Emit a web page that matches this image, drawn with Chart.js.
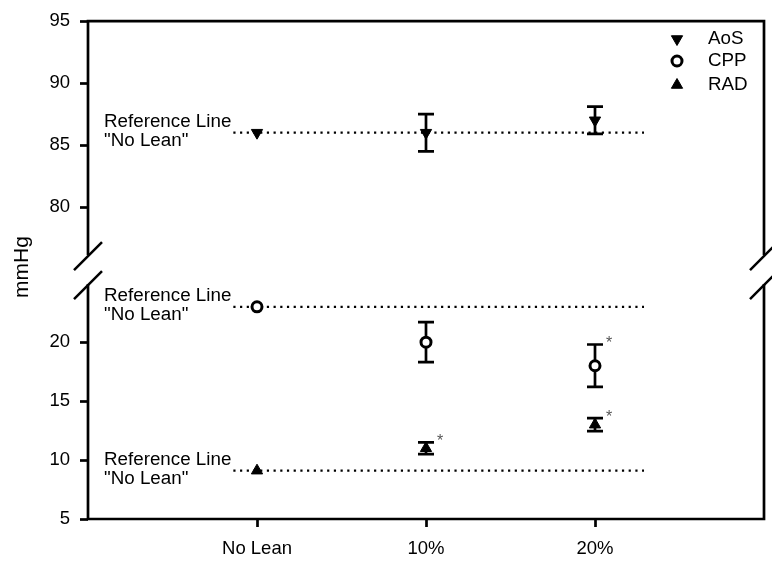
<!DOCTYPE html>
<html>
<head>
<meta charset="utf-8">
<script src="https://cdn.jsdelivr.net/npm/chart.js@4"></script>
<style>
    html, body { margin: 0; padding: 0; background: #fff; }
    #wrap { width: 772px; height: 561px; }
</style>
</head>
<body>
<div id="wrap"><canvas id="c" width="772" height="561"></canvas></div>
<script>
// Data
const categories = ["No Lean", "10%", "20%"];
const aosValues = [86, 86, 87];
const aosErrors = [0, 1.5, 1.1];
const cppValues = [23, 20, 18];
const cppErrors = [0, 1.7, 1.8];
const radValues = [9.1, 11, 13];
const radErrors = [0, 0.5, 0.55];
const cppSig = [false, false, true];
const radSig = [false, true, true];
const refValues = [86, 23, 9.1];
const refSpan = [-0.14, 2.29];
const upperTicks = [80, 85, 90, 95];
const lowerTicks = [5, 10, 15, 20];

const FONT = "'Liberation Sans', Arial, sans-serif";
const INK = "#000";

function pts(values) {
    return values.map((v, i) => ({ x: i, y: v }));
}

function refLine(value, axis) {
    return {
        type: "line",
        data: [{ x: refSpan[0], y: value }, { x: refSpan[1], y: value }],
        yAxisID: axis,
        borderColor: INK,
        borderWidth: 2.2,
        borderDash: [2.2, 4.5],
        pointRadius: 0,
        order: 3
    };
}

// error bars + stars, drawn under the markers
const errorBars = {
    id: "errorBars",
    beforeDatasetsDraw(chart) {
        const ctx = chart.ctx;
        const x = chart.scales.x;
        const sets = [
            [aosValues, aosErrors, chart.scales.yUpper, null],
            [cppValues, cppErrors, chart.scales.yLower, cppSig],
            [radValues, radErrors, chart.scales.yLower, radSig]
        ];
        ctx.save();
        ctx.strokeStyle = INK;
        ctx.lineWidth = 2.7;
        sets.forEach(([vals, errs, ys, sig]) => {
            vals.forEach((v, i) => {
                if (!errs[i]) return;
                const px = x.getPixelForValue(i);
                const top = ys.getPixelForValue(v + errs[i]);
                const bot = ys.getPixelForValue(v - errs[i]);
                ctx.beginPath();
                ctx.moveTo(px, top); ctx.lineTo(px, bot);
                ctx.moveTo(px - 8, top); ctx.lineTo(px + 8, top);
                ctx.moveTo(px - 8, bot); ctx.lineTo(px + 8, bot);
                ctx.stroke();
                if (sig && sig[i]) {
                    ctx.fillStyle = "#555";
                    ctx.font = "16px " + FONT;
                    ctx.textAlign = "left";
                    ctx.textBaseline = "middle";
                    ctx.fillText("*", px + 11, top - 1);
                }
            });
        });
        ctx.restore();
    }
};

// frame with axis breaks, labels, legend
const decorations = {
    id: "decorations",
    afterDraw(chart) {
        const ctx = chart.ctx;
        const a = chart.chartArea;
        const breakY = chart.scales.yUpper.bottom;
        ctx.save();
        ctx.strokeStyle = INK;
        ctx.lineWidth = 2.7;
        ctx.lineCap = "butt";

        // axes / frame
        ctx.beginPath();
        ctx.moveTo(a.left, breakY - 14); ctx.lineTo(a.left, a.top);
        ctx.lineTo(a.right, a.top); ctx.lineTo(a.right, breakY - 14);
        ctx.moveTo(a.left, breakY + 15); ctx.lineTo(a.left, a.bottom);
        ctx.lineTo(a.right, a.bottom); ctx.lineTo(a.right, breakY + 15);
        ctx.stroke();

        // break slashes
        ctx.lineWidth = 2.5;
        [a.left, a.right].forEach(bx => {
            ctx.beginPath();
            ctx.moveTo(bx - 14, breakY + 1); ctx.lineTo(bx + 14, breakY - 27);
            ctx.moveTo(bx - 14, breakY + 30); ctx.lineTo(bx + 14, breakY + 2);
            ctx.stroke();
        });

        // y title
        ctx.fillStyle = INK;
        ctx.font = "21px " + FONT;
        ctx.textAlign = "center";
        ctx.textBaseline = "middle";
        ctx.save();
        ctx.translate(22, 267);
        ctx.rotate(-Math.PI / 2);
        ctx.fillText("mmHg", 0, 0);
        ctx.restore();

        // "Reference Line" notes
        ctx.font = "18.8px " + FONT;
        ctx.textAlign = "left";
        const notes = [
            [chart.scales.yUpper, refValues[0]],
            [chart.scales.yLower, refValues[1]],
            [chart.scales.yLower, refValues[2]]
        ];
        notes.forEach(([ys, v]) => {
            const py = ys.getPixelForValue(v);
            ctx.fillText("Reference Line", 104, py - 11);
            ctx.fillText("\"No Lean\"", 104, py + 8);
        });

        // legend
        const items = [
            ["AoS", { pointStyle: "triangle", rotation: 180, radius: 6.5, borderWidth: 1 }, INK, 39],
            ["CPP", { pointStyle: "circle", rotation: 0, radius: 5, borderWidth: 3 }, "#fff", 61],
            ["RAD", { pointStyle: "triangle", rotation: 0, radius: 6.5, borderWidth: 1 }, INK, 85]
        ];
        items.forEach(([label, opts, fill, y]) => {
            ctx.fillStyle = fill;
            ctx.strokeStyle = INK;
            ctx.lineWidth = opts.borderWidth;
            Chart.helpers.drawPoint(ctx, opts, 677, y);
            ctx.fillStyle = INK;
            ctx.fillText(label, 708, y);
        });
        ctx.restore();
    }
};

const tickGrid = {
    display: true,
    drawOnChartArea: false,
    drawTicks: true,
    tickLength: 8,
    tickColor: INK,
    tickWidth: 2.7
};

const tickFont = { family: FONT, size: 18.5 };

new Chart(document.getElementById("c").getContext("2d"), {
    type: "scatter",
    data: {
        datasets: [
            {
                label: "AoS",
                data: pts(aosValues),
                yAxisID: "yUpper",
                pointStyle: "triangle",
                rotation: 180,
                pointRadius: 6.5,
                backgroundColor: INK,
                borderColor: INK,
                borderWidth: 1,
                order: 1
            },
            {
                label: "CPP",
                data: pts(cppValues),
                yAxisID: "yLower",
                pointStyle: "circle",
                pointRadius: 5,
                backgroundColor: "#fff",
                borderColor: INK,
                borderWidth: 3,
                order: 1
            },
            {
                label: "RAD",
                data: pts(radValues),
                yAxisID: "yLower",
                pointStyle: "triangle",
                pointRadius: 6.5,
                backgroundColor: INK,
                borderColor: INK,
                borderWidth: 1,
                order: 1
            },
            refLine(refValues[0], "yUpper"),
            refLine(refValues[1], "yLower"),
            refLine(refValues[2], "yLower")
        ]
    },
    options: {
        responsive: false,
        animation: false,
        layout: { padding: { top: 17, right: 8, left: 0, bottom: 0 } },
        plugins: { legend: { display: false }, tooltip: { enabled: false } },
        scales: {
            x: {
                type: "linear",
                min: -1,
                max: 3,
                afterBuildTicks: s => { s.ticks = categories.map((c, i) => ({ value: i })); },
                afterFit: s => { s.height = 42; },
                ticks: {
                    callback: v => categories[v],
                    color: INK,
                    font: tickFont,
                    padding: 11,
                    maxRotation: 0
                },
                grid: tickGrid,
                border: { display: false }
            },
            yUpper: {
                type: "linear",
                position: "left",
                stack: "y",
                stackWeight: 250,
                weight: 1,
                min: 75,
                max: 95,
                afterBuildTicks: s => { s.ticks = upperTicks.map(v => ({ value: v })); },
                afterFit: s => { s.width = 88; },
                ticks: { color: INK, font: tickFont, padding: 10 },
                grid: tickGrid,
                border: { display: false }
            },
            yLower: {
                type: "linear",
                position: "left",
                stack: "y",
                stackWeight: 252,
                weight: 0,
                min: 5,
                max: 26.2,
                afterBuildTicks: s => { s.ticks = lowerTicks.map(v => ({ value: v })); },
                afterFit: s => { s.width = 88; },
                ticks: { color: INK, font: tickFont, padding: 10 },
                grid: tickGrid,
                border: { display: false }
            }
        }
    },
    plugins: [errorBars, decorations]
});
</script>
</body>
</html>
